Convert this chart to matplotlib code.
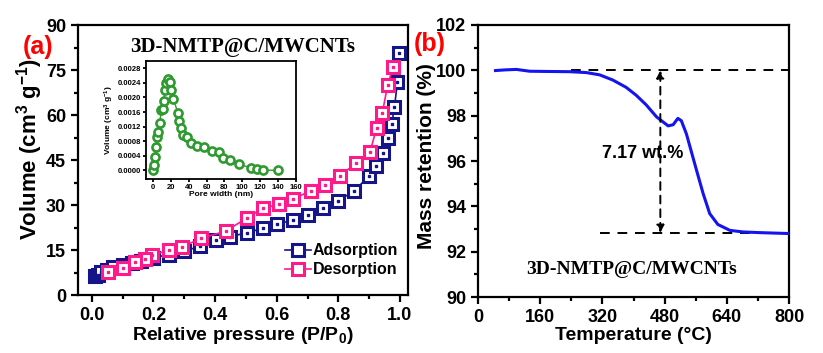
import matplotlib
matplotlib.use("Agg")
import matplotlib.pyplot as plt
from matplotlib.ticker import MultipleLocator, FormatStrFormatter

# ---------------- data ----------------
ads_p = [0.01, 0.02, 0.03, 0.05, 0.07, 0.10, 0.13, 0.16, 0.20, 0.25, 0.30, 0.35,
         0.403, 0.448, 0.502, 0.554, 0.602, 0.654, 0.703, 0.751, 0.80, 0.852,
         0.90, 0.922, 0.944, 0.96, 0.973, 0.982, 0.992, 0.998]
ads_v = [6.3, 6.8, 7.6, 8.5, 9.3, 10.0, 10.8, 11.5, 12.5, 13.5, 14.6, 16.3,
         18.3, 19.4, 20.8, 22.2, 23.7, 25.0, 26.7, 28.9, 31.4, 34.8,
         39.7, 43.1, 47.2, 52.2, 56.9, 62.6, 71.1, 80.6]

des_p = [0.978, 0.96, 0.943, 0.924, 0.903, 0.856, 0.805, 0.756, 0.71, 0.654,
         0.608, 0.554, 0.502, 0.434, 0.354, 0.293, 0.251, 0.194, 0.172, 0.14,
         0.102, 0.053]
des_v = [76.1, 70.0, 60.8, 55.6, 47.8, 43.9, 39.7, 36.7, 34.8, 32.0,
         30.3, 28.9, 25.6, 21.3, 18.9, 16.1, 15.0, 13.3, 12.2, 11.1,
         9.1, 7.8]

pore_w = [0.0, 1.0, 2.0, 3.2, 4.4, 6.0, 7.4, 9.2, 10.8, 12.0, 13.0, 14.7, 16.6,
          18.4, 20.0, 22.8, 27.6, 29.5, 31.0, 34.0, 38.0, 42.0, 49.0, 57.0,
          66.0, 74.0, 78.0, 86.6, 96.0, 110.0, 116.0, 123.0, 140.0]
pore_v = [0.00002, 0.00014, 0.00037, 0.00065, 0.0009, 0.00105, 0.0013, 0.00165,
          0.00168, 0.0019, 0.0022, 0.0024, 0.0025, 0.00242, 0.0022, 0.00196,
          0.00158, 0.00135, 0.00115, 0.00098, 0.0009, 0.00075, 0.00067, 0.00065,
          0.00054, 0.0005, 0.00033, 0.00028, 0.00016, 0.00007, 0.00003, 0.0, 0.0]

temp = [45, 70, 99, 133, 180, 236, 279, 313, 347, 381, 407, 433, 459, 489,
        502, 514, 523, 536, 549, 562, 579, 596, 617, 648, 682, 725, 800]
mass = [99.99, 100.02, 100.04, 99.96, 99.95, 99.94, 99.90, 99.80, 99.57, 99.25,
        98.90, 98.47, 97.95, 97.55, 97.60, 97.88, 97.78, 97.20, 96.40, 95.60,
        94.57, 93.68, 93.20, 92.94, 92.87, 92.84, 92.80]

mass_hi, mass_lo = 100.0, 92.83
loss_label = "7.17 wt.%"
sample = "3D-NMTP@C/MWCNTs"

# ---------------- style ----------------
SANS = ["Liberation Sans", "DejaVu Sans"]
plt.rcParams["font.family"] = SANS
plt.rcParams["font.weight"] = "bold"
plt.rcParams["mathtext.fontset"] = "custom"
plt.rcParams["mathtext.rm"] = "Liberation Sans:bold"
plt.rcParams["mathtext.it"] = "Liberation Sans:bold"
plt.rcParams["mathtext.bf"] = "Liberation Sans:bold"

NAVY = "#15158a"
PINK = "#ff1a8c"
GREEN = "#2f9a2f"
BLUE = "#1414f0"

fig = plt.figure(figsize=(8.23, 3.53), dpi=100)

def style_axes(ax, lw=1.6, tsize=13, major_len=5, minor_len=3):
    for s in ax.spines.values():
        s.set_linewidth(lw)
    ax.tick_params(which="major", direction="out", length=major_len, width=lw,
                   labelsize=tsize)
    ax.tick_params(which="minor", direction="out", length=minor_len, width=lw)
    for lab in ax.get_xticklabels() + ax.get_yticklabels():
        lab.set_fontweight("bold")

# ---------------- panel (a) ----------------
ax1 = fig.add_axes([0.0948, 0.164, 0.4009, 0.765])
ax1.plot(ads_p, ads_v, "-", color=NAVY, lw=1.2, marker="s", ms=8.5, mew=2.2,
         mfc="white", mec=NAVY, label="Adsorption", zorder=3)
ax1.plot(ads_p, ads_v, "s", color=NAVY, ms=2, zorder=3.1)
ax1.plot(des_p, des_v, "-", color=PINK, lw=1.2, marker="s", ms=8.5, mew=2.2,
         mfc="white", mec=PINK, label="Desorption", zorder=4)
ax1.plot(des_p, des_v, "s", color=PINK, ms=2, zorder=4.1)
ax1.set_xlim(-0.045, 1.026)
ax1.set_ylim(0, 90)
ax1.xaxis.set_major_locator(MultipleLocator(0.2))
ax1.xaxis.set_minor_locator(MultipleLocator(0.1))
ax1.yaxis.set_major_locator(MultipleLocator(15))
ax1.yaxis.set_minor_locator(MultipleLocator(7.5))
ax1.xaxis.set_major_formatter(FormatStrFormatter("%.1f"))
style_axes(ax1)
ax1.set_xlabel("Relative pressure (P/P$_0$)", fontsize=14, fontweight="bold",
               labelpad=1)
ax1.set_ylabel("Volume (cm$^3$ g$^{-1}$)", fontsize=16, fontweight="bold")
ax1.yaxis.set_label_coords(-0.10, 0.54)
leg = ax1.legend(loc="lower right", bbox_to_anchor=(1.0, 0.03), frameon=False,
                 fontsize=11.5, handlelength=1.6, handletextpad=0.15,
                 labelspacing=0.25, borderaxespad=0.2)
for t in leg.get_texts():
    t.set_fontweight("bold")
ax1.text(0.5, 0.92, sample, transform=ax1.transAxes, ha="center", va="center",
         fontsize=15, fontweight="bold", family=["Liberation Serif"])

fig.text(0.046, 0.867, "(a)", color="red", fontsize=18, fontweight="bold",
         ha="center", va="center")
fig.text(0.522, 0.875, "(b)", color="red", fontsize=18, fontweight="bold",
         ha="center", va="center")

# ---------------- inset ----------------
axi = fig.add_axes([0.1774, 0.493, 0.182, 0.334])
axi.plot(pore_w, pore_v, "-", color=GREEN, lw=1.0, marker="o", ms=5.8, mew=1.9,
         mfc="white", mec=GREEN)
axi.set_xlim(-8, 160)
axi.set_ylim(-0.00024, 0.0030)
axi.xaxis.set_major_locator(MultipleLocator(20))
axi.yaxis.set_major_locator(MultipleLocator(0.0004))
axi.yaxis.set_major_formatter(FormatStrFormatter("%.4f"))
style_axes(axi, lw=1.3, tsize=5.5, major_len=2.5, minor_len=1.5)
axi.set_xlabel("Pore width (nm)", fontsize=6, fontweight="bold", labelpad=0)
axi.set_ylabel("Volume (cm$^3$ g$^{-1}$)", fontsize=6, fontweight="bold",
               labelpad=1)
axi.tick_params(pad=1)

# ---------------- panel (b) ----------------
ax2 = fig.add_axes([0.5808, 0.1586, 0.3779, 0.7706])
ax2.plot(temp, mass, "-", color=BLUE, lw=2.2, zorder=3)
ax2.set_xlim(0, 800)
ax2.set_ylim(90, 102)
ax2.xaxis.set_major_locator(MultipleLocator(160))
ax2.xaxis.set_minor_locator(MultipleLocator(80))
ax2.yaxis.set_major_locator(MultipleLocator(2))
ax2.yaxis.set_minor_locator(MultipleLocator(1))
style_axes(ax2)
ax2.set_xlabel("Temperature (\u00b0C)", fontsize=14, fontweight="bold",
               labelpad=1)
ax2.set_ylabel("Mass retention (%)", fontsize=15, fontweight="bold")
ax2.yaxis.set_label_coords(-0.136, 0.52)
ax2.plot([240, 800], [mass_hi, mass_hi], ls=(0, (5, 4)), color="k", lw=1.4,
         zorder=2)
ax2.plot([315, 800], [mass_lo, mass_lo], ls=(0, (5, 4)), color="k", lw=1.4,
         zorder=2)
ax2.annotate("", xy=(469, mass_hi), xytext=(469, mass_lo),
             arrowprops=dict(arrowstyle="<|-|>", ls=(0, (4, 3)), lw=1.4,
                             color="k", mutation_scale=11,
                             shrinkA=0, shrinkB=0))
ax2.text(424, 96.33, loss_label, ha="center", va="center", fontsize=13,
         fontweight="bold")
ax2.text(395, 91.2, sample, ha="center", va="center", fontsize=14,
         fontweight="bold", family=["Liberation Serif"])

fig.savefig("out.png", dpi=100)
